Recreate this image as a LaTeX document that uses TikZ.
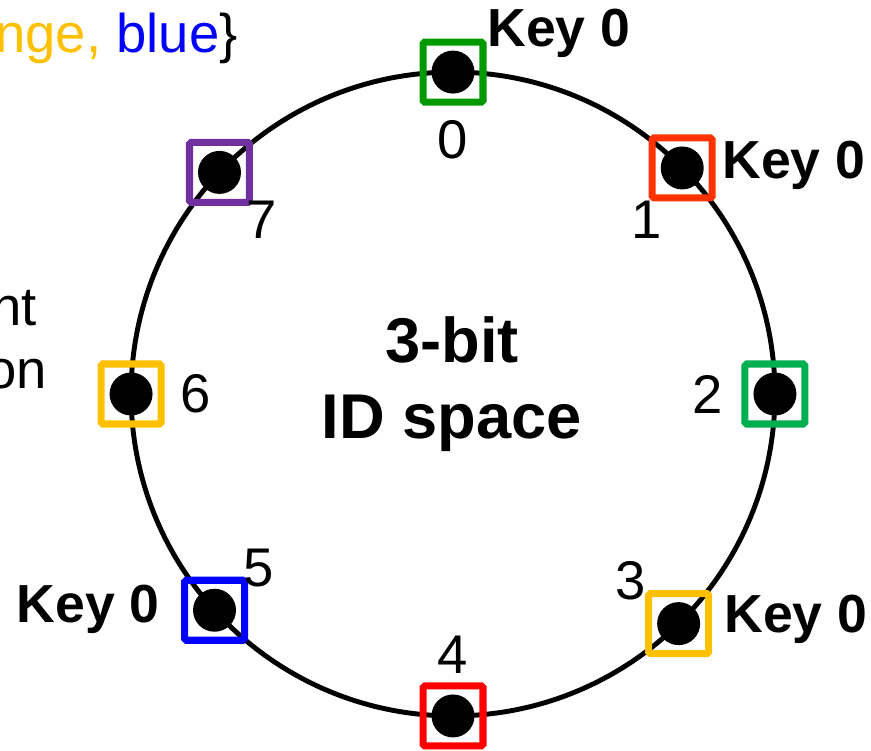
\documentclass[tikz,border=0pt]{standalone}
\usepackage{fontspec}
\setmainfont{Liberation Sans}
\usetikzlibrary{positioning}
\definecolor{ringgreen}{RGB}{0,153,0}
\definecolor{ringvermilion}{RGB}{255,51,0}
\definecolor{ringlime}{RGB}{0,176,80}
\definecolor{ringamber}{RGB}{255,192,0}
\definecolor{ringred}{RGB}{255,0,0}
\definecolor{ringblue}{RGB}{0,0,255}
\definecolor{ringpurple}{RGB}{112,48,160}
\tikzset{
    idring/.style={line width=2.8pt},
    slot/.style={draw, line width=4pt, rounded corners=1pt, minimum size=1.2cm, inner sep=0pt},
    peer/.style={fill, circle, minimum size=0.86cm, inner sep=0pt},
    idnum/.style={font=\fontsize{31}{36}\selectfont, inner sep=0pt},
    keytag/.style={font=\bfseries\fontsize{30.5}{36}\selectfont, inner sep=0pt},
    % text running in from the left edge, set flush right
    cutoff/.style={font=\fontsize{31}{36}\selectfont, inner sep=0pt, anchor=base east},
}

\begin{document}
\begin{tikzpicture}[x=0.02cm, y=-0.02cm]
    \useasboundingbox (0,0) rectangle (871,750);
    \clip (0,0) rectangle (871,750);

    \coordinate (c) at (453,394);
    \draw[idring] (c) circle[radius=6.44cm];

    % id, angle on the ring, colour of the slot
    \foreach \i/\ang/\col in {0/90/ringgreen, 1/44.6/ringvermilion, 2/0/ringlime,
                              3/-45.5/ringamber, 4/-90/ringred, 5/222.2/ringblue,
                              6/180/ringamber, 7/136.5/ringpurple} {
        \node[slot, draw=\col] (slot\i) at ([shift={(\ang:6.44cm)}]c) {};
        \node[peer] (peer\i) at (slot\i) {};
    }

    \node[idnum, below=0.3cm of slot0]  (id0) {0};
    \node[idnum]                        (id1) at (647,220) {1};
    \node[idnum, left=0.36cm of slot2]  (id2) {2};
    \node[idnum]                        (id3) at (631,581) {3};
    \node[idnum, above=0.18cm of slot4] (id4) {4};
    \node[idnum]                        (id5) at (259,568) {5};
    \node[idnum, right=0.32cm of slot6] (id6) {6};
    \node[idnum]                        (id7) at (262,220) {7};

    \node[keytag, anchor=base west] (key0) at (487,47)  {Key 0};
    \node[keytag, anchor=base west] (key1) at (722,178) {Key 0};
    \node[keytag, anchor=base west] (key3) at (724,632) {Key 0};
    \node[keytag, anchor=base east] (key5) at (160,622) {Key 0};

    \node[font=\bfseries\fontsize{36}{43}\selectfont, align=center] (space) at (452,384) {3-bit\\ID space};

    \node[cutoff] (colors) at (238,53) {\textcolor{ringamber}{nge,} \textcolor{ringblue}{blue}\}};
    \node[cutoff] (tail1)  at (37,325) {nt};
    \node[cutoff] (tail2)  at (47,388) {on};
\end{tikzpicture}
\end{document}
